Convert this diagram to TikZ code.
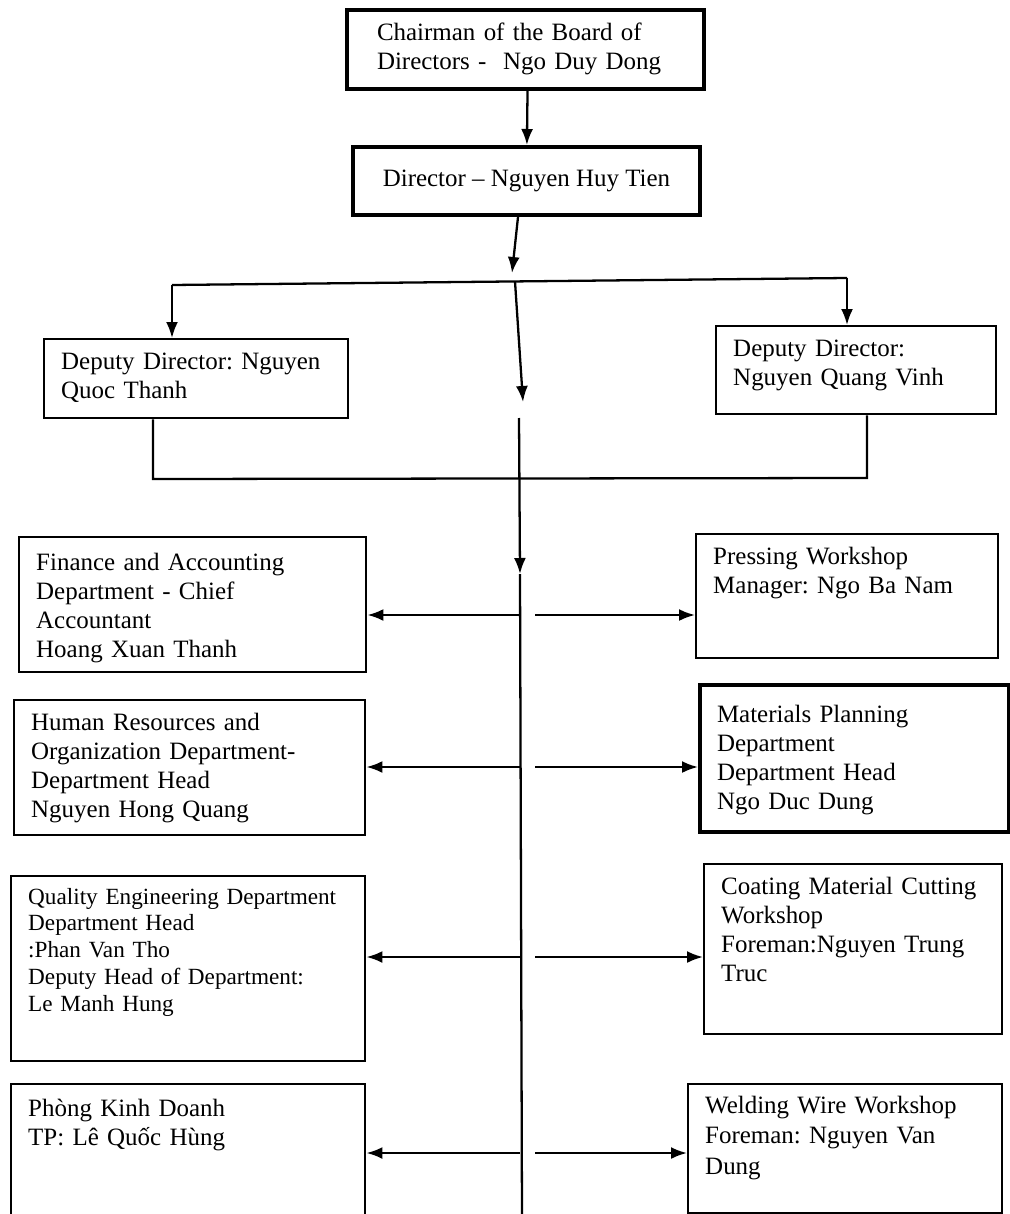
\documentclass[tikz,border=0pt]{standalone}
\usepackage{fontspec}
\setmainfont{Liberation Serif}
\usetikzlibrary{arrows.meta}
\frenchspacing

\tikzset{
  box/.style={draw, line width=1.4pt, anchor=north west, align=left,
    inner xsep=0.34cm, inner ysep=0.2cm, text height=0.4cm,
    font=\fontsize{14.2}{16.5}\selectfont},
  headbox/.style={draw, line width=2.3pt, align=center, inner sep=0pt,
    font=\fontsize{14.2}{16.5}\selectfont},
  arr/.style={line width=1.3pt, -{Latex[length=0.32cm,width=0.24cm]}},
  link/.style={line width=1.3pt}
}

\begin{document}
\begin{tikzpicture}
\useasboundingbox[fill=white] (0,0) rectangle (20.18,-24.28);

% board and director
\node[box, line width=2.3pt, inner xsep=0.6cm, text width=5.94cm, text depth=0.78cm] (chair) at (6.90,-0.16) {Chairman of the Board of\\Directors - \ Ngo Duy Dong};
\node[headbox, minimum width=6.94cm, minimum height=1.36cm] (dir) at (10.53,-3.62) {Director – Nguyen Huy Tien};

% deputies
\node[box, text width=5.40cm, text depth=0.78cm] (depL) at (0.86,-6.76) {Deputy Director: Nguyen\\Quoc Thanh};
\node[box, text width=4.92cm, text depth=0.96cm] (depR) at (14.30,-6.50) {Deputy Director:\\Nguyen Quang Vinh};

% left column
\node[box, text width=6.26cm, text height=0.46cm, text depth=1.84cm] (fin) at (0.36,-10.72) {Finance and Accounting\\Department - Chief\\Accountant\\Hoang Xuan Thanh};
\node[box, text width=6.34cm, text depth=1.90cm] (hr) at (0.26,-13.98) {Human Resources and\\Organization Department-\\Department Head\\Nguyen Hong Quang};
\node[box, text width=6.40cm, text height=0.36cm, text depth=2.94cm, font=\fontsize{13.2}{15.2}\selectfont] (qual) at (0.20,-17.50) {Quality Engineering Department\\Department Head\\:Phan Van Tho\\Deputy Head of Department:\\Le Manh Hung};
\node[box, text width=6.40cm, text height=0.44cm, text depth=1.90cm] (phong) at (0.20,-21.66) {Phòng Kinh Doanh\\TP: Lê Quốc Hùng};

% right column
\node[box, text width=5.36cm, text depth=1.68cm] (press) at (13.90,-10.66) {Pressing Workshop\\Manager: Ngo Ba Nam};
\node[box, line width=2.3pt, text width=5.50cm, text height=0.54cm, text depth=2.00cm] (mat) at (13.96,-13.66) {Materials Planning\\Department\\Department Head\\Ngo Duc Dung};
\node[box, text width=5.28cm, text depth=2.60cm] (coat) at (14.06,-17.26) {Coating Material Cutting\\Workshop\\Foreman:Nguyen Trung\\Truc};
\node[box, text width=5.60cm, text height=0.38cm, text depth=1.80cm, font=\fontsize{14.2}{17.5}\selectfont] (weld) at (13.74,-21.66) {Welding Wire Workshop\\Foreman: Nguyen Van\\Dung};

% points on the lines
\coordinate (dtip) at (10.24,-5.46);
\coordinate (busl) at (3.44,-5.70);
\coordinate (busr) at (16.94,-5.56);
\coordinate (busc) at (10.30,-5.63);
\coordinate (gap) at (10.46,-8.04);
\coordinate (sp0) at (10.38,-8.36);
\coordinate (bl) at (3.06,-9.58);
\coordinate (br) at (17.34,-9.56);
\coordinate (spm) at (10.40,-11.48);
\coordinate (spb) at (10.44,-24.40);
\coordinate (s1) at (10.40,-12.30);
\coordinate (s2) at (10.40,-15.34);
\coordinate (s3) at (10.40,-19.14);
\coordinate (s4) at (10.40,-23.06);

\draw[arr] ([xshift=0.04cm]chair.south) -- (dir);
\draw[arr] ([xshift=-0.17cm]dir.south) -- (dtip);
\draw[link] (busl) -- (busr);
\draw[arr] (busl) -- (busl |- depL.north);
\draw[arr] (busr) -- (busr |- depR.north);
\draw[arr] (busc) -- (gap);

\draw[link] (depL.south -| bl) -- (bl) -- (br) -- (depR.south -| br);
\draw[arr] (sp0) -- (spm);
\draw[link] (spm) -- (spb);

\foreach \n/\lft/\rgt in {1/fin/press, 2/hr/mat, 3/qual/coat, 4/phong/weld} {
  \draw[arr] (s\n) -- (s\n -| \lft.east);
  \draw[arr] ([xshift=0.3cm]s\n) -- (s\n -| \rgt.west);
}
\end{tikzpicture}
\end{document}
